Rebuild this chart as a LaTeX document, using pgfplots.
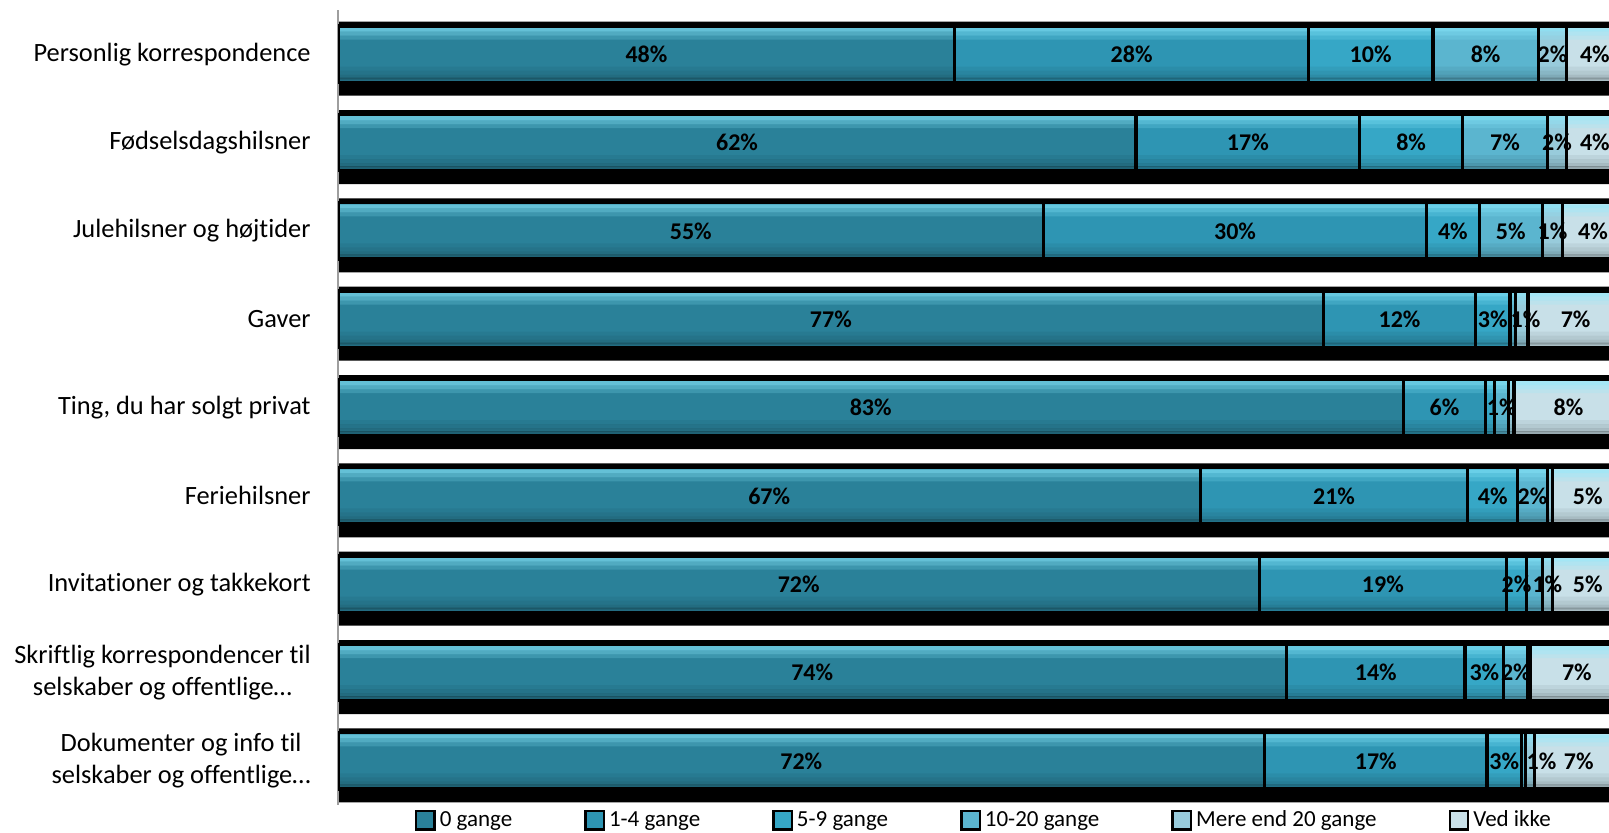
\documentclass[border=0pt]{standalone}
\usepackage{pgfplots}
\pgfplotsset{compat=1.18}
\usepackage{pgfplotstable}
\usepackage{fontspec}
\setmainfont{Carlito}[Ligatures=NoCommon]

\definecolor{cA}{HTML}{2A8199}
\definecolor{cB}{HTML}{2E95B3}
\definecolor{cC}{HTML}{36A7C6}
\definecolor{cD}{HTML}{5BB5CF}
\definecolor{cE}{HTML}{98CBDB}
\definecolor{cF}{HTML}{C8E0E8}
\definecolor{hl}{HTML}{8CEBFF}

\pgfplotstableread{
y a b c d e f la lb lc ld le lf ne
0 48.0 27.5 9.7 8.2 2.2 4.4 48\% 28\% 10\% 8\% 2\% 4\% 0
1 62.1 17.4 8.0 6.6 1.5 4.4 62\% 17\% 8\% 7\% 2\% 4\% 0
2 54.9 29.8 4.1 4.9 1.6 4.7 55\% 30\% 4\% 5\% 1\% 4\% 0
3 76.7 11.8 2.7 0.4 1.0 7.4 77\% 12\% 3\% {} 1\% 7\% 0.3
4 82.9 6.4 0.7 1.1 0.4 8.5 83\% 6\% {} 1\% {} 8\% 0
5 67.1 20.8 3.9 2.3 0.4 5.5 67\% 21\% 4\% 2\% {} 5\% 0
6 71.7 19.2 1.6 1.2 0.8 5.5 72\% 19\% 2\% {} 1\% 5\% 0
7 73.8 13.9 3.0 1.9 0.2 7.2 74\% 14\% 3\% 2\% {} 7\% 0
8 72.1 17.3 2.7 0.3 0.7 6.9 72\% 17\% 3\% {} 1\% 7\% 0.9
}\data

\pgfplotsset{
  myaxis/.style={scale only axis, width=635.5pt, height=397.5pt,
    at={(169pt,-5pt)}, anchor=north west,
    xmin=0, xmax=98.9, ymin=-0.5, ymax=8.5, y dir=reverse},
  seg/.style={fill=#1, draw=none,
    legend image code/.code={\path[##1, draw=black, line width=1.2pt] (0pt,-4.6pt) rectangle (9.2pt,4.6pt);}},
  brd/.style={fill=none, draw=black, line width=1.6pt},
  lab/.style={only marks, mark=none, nodes near coords, point meta=explicit symbolic,
    every node near coord/.style={anchor=center, inner sep=0pt, text=black,
      font=\bfseries\fontsize{12}{14}\selectfont}},
  strip/.style 2 args={fill=#1, draw=none, fill opacity=#2},
}

\begin{document}
\begin{tikzpicture}
% black shadow bands
\begin{axis}[myaxis, hide axis, xbar, bar width=37pt, bar shift=0pt]
\addplot[fill=black, draw=none] table[x expr=100, y expr=\thisrow{y}+0.051] {\data};
\end{axis}
% stacked bar fills
\begin{axis}[myaxis, xbar stacked, bar width=28.1pt,
  axis x line=none, axis y line*=left,
  y axis line style={draw=black!38, line width=1pt},
  xtick=\empty, ytick={0,...,8}, major tick length=0pt, ytick style={draw=none},
  yticklabels={Personlig korrespondence, Fødselsdagshilsner, Julehilsner og højtider, Gaver,
    {Ting, du har solgt privat}, Feriehilsner, Invitationer og takkekort,
    {Skriftlig korrespondencer til\\selskaber og offentlige…},
    {Dokumenter og info til\\selskaber og offentlige…}},
  yticklabel style={align=center, inner sep=0pt, xshift=-13.5pt,
    font=\fontsize{13.2}{16}\selectfont},
  legend columns=6,
  legend style={at={(0.509,-0.019)}, anchor=center, draw=none, fill=none,
    font=\fontsize{11.5}{13}\selectfont,
    /tikz/every even column/.append style={column sep=34pt}},
  legend cell align=left,
]
\addplot[seg=cA] table[x=a, y=y] {\data};
\addplot[seg=cB] table[x=b, y=y] {\data};
\addplot[seg=cC] table[x=c, y=y] {\data};
\addplot[seg=cD] table[x=d, y=y] {\data};
\addplot[seg=cE] table[x=e, y=y] {\data};
\addplot[seg=cF] table[x=f, y=y] {\data};
\legend{0 gange, 1-4 gange, 5-9 gange, 10-20 gange, Mere end 20 gange, Ved ikke}
\end{axis}
% bevel stripes
\begin{axis}[myaxis, hide axis, xbar, bar shift=0pt]
\addplot[strip={hl}{0.6}, bar width=2pt] table[x expr=100, y expr=\thisrow{y}-0.2774] {\data};
\addplot[strip={hl}{0.4}, bar width=2pt] table[x expr=100, y expr=\thisrow{y}-0.2321] {\data};
\addplot[strip={hl}{0.2}, bar width=2pt] table[x expr=100, y expr=\thisrow{y}-0.1868] {\data};
\addplot[strip={black}{0.05}, bar width=2pt] table[x expr=100, y expr=\thisrow{y}+0.1642] {\data};
\addplot[strip={black}{0.10}, bar width=2pt] table[x expr=100, y expr=\thisrow{y}+0.2095] {\data};
\addplot[strip={black}{0.16}, bar width=2pt] table[x expr=100, y expr=\thisrow{y}+0.2547] {\data};
\addplot[strip={black}{0.24}, bar width=1.5pt] table[x expr=100, y expr=\thisrow{y}+0.2830] {\data};
\end{axis}
% segment borders
\begin{axis}[myaxis, hide axis, xbar stacked, bar width=28.1pt]
\addplot[brd] table[x=a, y=y] {\data};
\addplot[brd] table[x=b, y=y] {\data};
\addplot[brd] table[x=c, y=y] {\data};
\addplot[brd] table[x=d, y=y] {\data};
\addplot[brd] table[x=e, y=y] {\data};
\addplot[brd] table[x=f, y=y] {\data};
\end{axis}
% value labels
\begin{axis}[myaxis, hide axis, clip=false]
\addplot[lab] table[x expr=0.5*\thisrow{a}, y=y, meta=la] {\data};
\addplot[lab] table[x expr=\thisrow{a}+0.5*\thisrow{b}, y=y, meta=lb] {\data};
\addplot[lab] table[x expr=\thisrow{a}+\thisrow{b}+0.5*\thisrow{c}, y=y, meta=lc] {\data};
\addplot[lab] table[x expr=\thisrow{a}+\thisrow{b}+\thisrow{c}+0.5*\thisrow{d}, y=y, meta=ld] {\data};
\addplot[lab] table[x expr=\thisrow{a}+\thisrow{b}+\thisrow{c}+\thisrow{d}+0.5*\thisrow{e}+\thisrow{ne}, y=y, meta=le] {\data};
\addplot[lab] table[x expr=\thisrow{a}+\thisrow{b}+\thisrow{c}+\thisrow{d}+\thisrow{e}+0.5*\thisrow{f}, y=y, meta=lf] {\data};
\end{axis}
\pgfresetboundingbox
\path[use as bounding box] (0,0) rectangle (804.5pt,-416pt);
\end{tikzpicture}
\end{document}
